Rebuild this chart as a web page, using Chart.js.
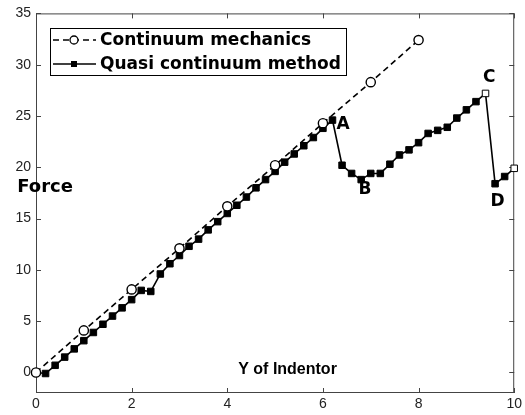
<!DOCTYPE html>
<html>
<head>
<meta charset="utf-8">
<script src="https://cdn.jsdelivr.net/npm/chart.js@4"></script>
<style>
  html, body { margin: 0; padding: 0; background: #fff; }
  #wrap { width: 525px; height: 415px; }
</style>
</head>
<body>
<div id="wrap"><canvas id="chart" width="525" height="415"></canvas></div>
<script>
// data
const contX = [0, 1, 2, 3, 4, 5, 6, 7, 8];
const contY = [0, 4.1, 8.1, 12.1, 16.2, 20.2, 24.3, 28.3, 32.4];

const quasiX = [0, 0.2, 0.4, 0.6, 0.8, 1.0, 1.2, 1.4, 1.6, 1.8, 2.0, 2.2, 2.4, 2.6, 2.8, 3.0, 3.2, 3.4, 3.6, 3.8,
  4.0, 4.2, 4.4, 4.6, 4.8, 5.0, 5.2, 5.4, 5.6, 5.8, 6.0, 6.2, 6.4, 6.6, 6.8, 7.0, 7.2, 7.4, 7.6, 7.8,
  8.0, 8.2, 8.4, 8.6, 8.8, 9.0, 9.2, 9.4, 9.6, 9.8, 10.0];
const quasiY = [0, -0.1, 0.7, 1.5, 2.3, 3.1, 3.9, 4.7, 5.5, 6.3, 7.1, 8.0, 7.9, 9.6, 10.6, 11.4, 12.3, 13.0, 13.9, 14.7,
  15.5, 16.3, 17.1, 18.0, 18.8, 19.6, 20.5, 21.3, 22.1, 22.9, 23.8, 24.6, 20.2, 19.4, 18.8, 19.4, 19.4, 20.3, 21.2, 21.7,
  22.4, 23.3, 23.6, 23.9, 24.8, 25.6, 26.4, 27.2, 18.4, 19.1, 19.9];

const xTicks = [0, 2, 4, 6, 8, 10];
const yTicks = [0, 5, 10, 15, 20, 25, 30, 35];

const seriesNames = ['Continuum mechanics', 'Quasi continuum method'];

// text placed on the plot, in data units
const notes = [
  { text: 'A', x: 6.42, y: 24.2, size: 17, family: '"DejaVu Sans"' },
  { text: 'B', x: 6.88, y: 17.8, size: 17, family: '"DejaVu Sans"' },
  { text: 'C', x: 9.48, y: 28.7, size: 17, family: '"DejaVu Sans"' },
  { text: 'D', x: 9.65, y: 16.7, size: 17, family: '"DejaVu Sans"' },
  { text: 'Force', x: 0.19, y: 18.0, size: 18, family: '"DejaVu Sans"' },
  { text: 'Y of Indentor', x: 5.26, y: 0.25, size: 16, family: '"Liberation Sans"' },
];

const hollowQuasi = [47, 50]; // drawn as open squares in the original

const toPts = (xs, ys) => xs.map((x, i) => ({ x, y: ys[i] }));

const boxAndTicks = {
  id: 'boxAndTicks',
  beforeDatasetsDraw(chart) {
    const { ctx, chartArea: a, scales } = chart;
    ctx.save();
    ctx.strokeStyle = '#444';
    ctx.lineWidth = 1;
    ctx.strokeRect(a.left + 0.5, a.top + 0.5, a.right - a.left - 1, a.bottom - a.top - 1);
    const len = 5;
    ctx.beginPath();
    xTicks.forEach(v => {
      const px = Math.round(scales.x.getPixelForValue(v)) + 0.5;
      ctx.moveTo(px, a.bottom); ctx.lineTo(px, a.bottom - len);
      ctx.moveTo(px, a.top); ctx.lineTo(px, a.top + len);
    });
    yTicks.forEach(v => {
      const py = Math.round(scales.y.getPixelForValue(v)) + 0.5;
      ctx.moveTo(a.left, py); ctx.lineTo(a.left + len, py);
      ctx.moveTo(a.right, py); ctx.lineTo(a.right - len, py);
    });
    ctx.stroke();
    ctx.restore();
  },
  afterDatasetsDraw(chart) {
    const { ctx, scales } = chart;
    ctx.save();
    ctx.fillStyle = '#000';
    ctx.textAlign = 'center';
    ctx.textBaseline = 'middle';
    notes.forEach(n => {
      ctx.font = 'bold ' + n.size + 'px ' + n.family + ', Arial, sans-serif';
      ctx.fillText(n.text, scales.x.getPixelForValue(n.x), scales.y.getPixelForValue(n.y));
    });

    // legend box in the upper left
    const lx = 50, ly = 28, lw = 296, lh = 47;
    ctx.fillStyle = '#fff';
    ctx.fillRect(lx, ly, lw, lh);
    ctx.strokeStyle = '#000';
    ctx.lineWidth = 1;
    ctx.strokeRect(lx + 0.5, ly + 0.5, lw, lh);
    chart.data.datasets.forEach((ds, i) => {
      const yy = ly + 12 + i * 24;
      ctx.beginPath();
      ctx.setLineDash(ds.borderDash || []);
      ctx.lineWidth = ds.borderWidth;
      ctx.strokeStyle = ds.borderColor;
      ctx.moveTo(lx + 3, yy); ctx.lineTo(lx + 46, yy);
      ctx.stroke();
      ctx.setLineDash([]);
      ctx.lineWidth = 1.3;
      ctx.fillStyle = i === 0 ? '#fff' : '#000';
      if (i === 0) {
        ctx.beginPath();
        ctx.arc(lx + 24, yy, 4, 0, Math.PI * 2);
        ctx.fill(); ctx.stroke();
      } else {
        ctx.fillRect(lx + 21, yy - 3, 6, 6);
      }
      ctx.fillStyle = '#000';
      ctx.textAlign = 'left';
      ctx.font = 'bold 17px "DejaVu Sans", Arial, sans-serif';
      ctx.fillText(ds.label, lx + 50, yy + 1);
    });
    ctx.restore();
  }
};

new Chart(document.getElementById('chart'), {
  type: 'line',
  data: {
    datasets: [
      {
        label: seriesNames[0],
        data: toPts(contX, contY),
        borderColor: '#000',
        borderWidth: 1.6,
        borderDash: [6, 4],
        pointStyle: 'circle',
        pointRadius: 4.6,
        pointBorderWidth: 1.4,
        pointBorderColor: '#000',
        pointBackgroundColor: '#fff',
        tension: 0,
        clip: false,
      },
      {
        label: seriesNames[1],
        data: toPts(quasiX, quasiY),
        borderColor: '#000',
        borderWidth: 1.6,
        pointStyle: 'rect',
        pointRadius: 4.6,
        pointBorderWidth: 1,
        pointBorderColor: '#000',
        pointBackgroundColor: ctx => hollowQuasi.includes(ctx.dataIndex) ? '#fff' : '#000',
        tension: 0,
        clip: false,
      },
    ],
  },
  options: {
    responsive: false,
    animation: false,
    events: [],
    layout: { padding: { top: 10, right: 8, left: 0, bottom: 0 } },
    plugins: {
      legend: { display: false },
      tooltip: { enabled: false },
    },
    scales: {
      x: {
        type: 'linear',
        min: 0,
        max: 10,
        afterBuildTicks: s => { s.ticks = xTicks.map(v => ({ value: v })); },
        afterFit: s => { s.height = 22; },
        grid: { display: false, drawTicks: false },
        border: { display: false },
        ticks: {
          color: '#222',
          padding: 3,
          maxRotation: 0,
          autoSkip: false,
          font: { family: '"Liberation Sans", Arial, sans-serif', size: 14 },
        },
      },
      y: {
        type: 'linear',
        min: -2,
        max: 35,
        afterBuildTicks: s => { s.ticks = yTicks.map(v => ({ value: v })); },
        afterFit: s => { s.width = 36; },
        grid: { display: false, drawTicks: false },
        border: { display: false },
        ticks: {
          color: '#222',
          padding: 5,
          autoSkip: false,
          font: { family: '"Liberation Sans", Arial, sans-serif', size: 14 },
        },
      },
    },
  },
  plugins: [boxAndTicks],
});
</script>
</body>
</html>
